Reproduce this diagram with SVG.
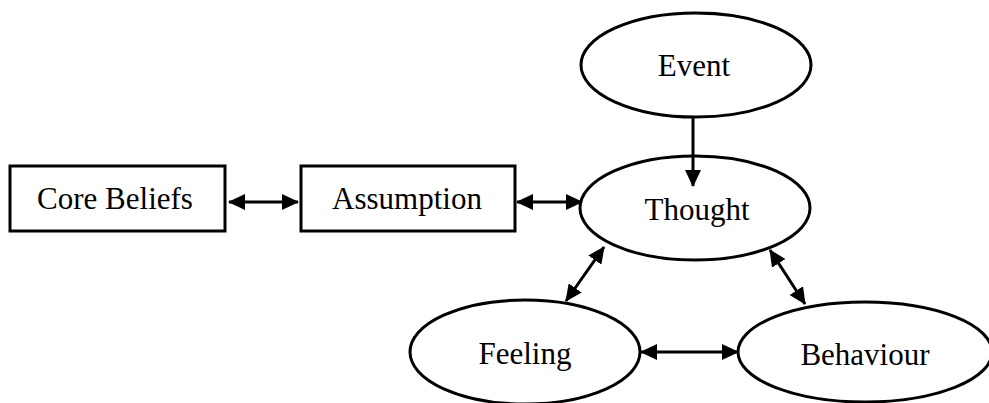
<svg xmlns="http://www.w3.org/2000/svg" width="989" height="403" viewBox="0 0 989 403">
<style>
.shape{fill:#fff;stroke:#000;stroke-width:3}
.lbl{font-family:"Liberation Serif","Times New Roman",serif;font-size:31px;fill:#000;text-anchor:middle}
.conn{stroke:#000;stroke-width:3;fill:none}
</style>
<defs>
<marker id="ah" viewBox="0 0 17 16" refX="16" refY="8" markerWidth="17" markerHeight="16" markerUnits="userSpaceOnUse" orient="auto-start-reverse">
<path d="M0,0 L17,8 L0,16 z" fill="#000"/>
</marker>
</defs>
<rect width="989" height="403" fill="#fff"/>
<g id="core-beliefs">
<rect class="shape" x="10" y="166" width="215" height="65"/>
<text class="lbl" x="115" y="209">Core Beliefs</text>
</g>
<g id="assumption">
<rect class="shape" x="301" y="166" width="214" height="65"/>
<text class="lbl" x="407" y="209">Assumption</text>
</g>
<g id="event">
<ellipse class="shape" cx="696" cy="65" rx="115" ry="52"/>
<text class="lbl" x="694" y="76">Event</text>
</g>
<g id="thought">
<ellipse class="shape" cx="695" cy="208" rx="115" ry="52"/>
<text class="lbl" x="697" y="220">Thought</text>
</g>
<g id="feeling">
<ellipse class="shape" cx="525" cy="352" rx="115" ry="52"/>
<text class="lbl" x="525" y="364">Feeling</text>
</g>
<g id="behaviour">
<ellipse class="shape" cx="865" cy="352" rx="127" ry="50"/>
<text class="lbl" x="865" y="365">Behaviour</text>
</g>
<g id="connectors">
<line class="conn" x1="229" y1="202" x2="298" y2="202" marker-start="url(#ah)" marker-end="url(#ah)"/>
<line class="conn" x1="517" y1="202" x2="582" y2="202" marker-start="url(#ah)" marker-end="url(#ah)"/>
<line class="conn" x1="693" y1="117" x2="693" y2="186" marker-end="url(#ah)"/>
<line class="conn" x1="604" y1="247" x2="566" y2="301" marker-start="url(#ah)" marker-end="url(#ah)"/>
<line class="conn" x1="770" y1="250" x2="805" y2="304" marker-start="url(#ah)" marker-end="url(#ah)"/>
<line class="conn" x1="641" y1="352" x2="738" y2="352" marker-start="url(#ah)" marker-end="url(#ah)"/>
</g>
</svg>
